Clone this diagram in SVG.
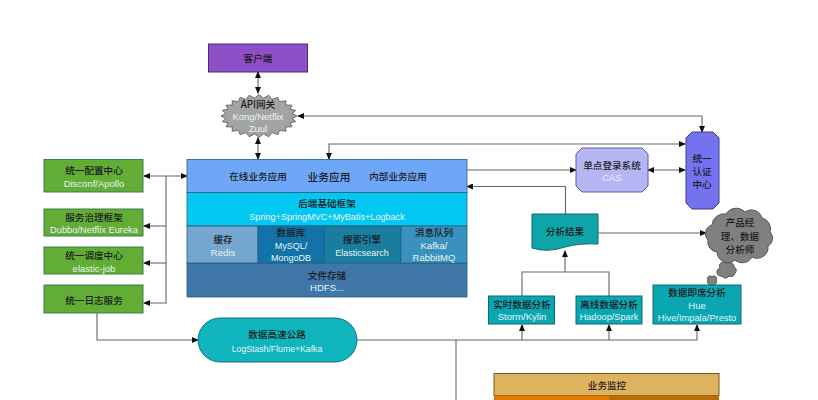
<svg xmlns="http://www.w3.org/2000/svg" width="818" height="400" viewBox="0 0 818 400">
<defs>
<marker id="a" markerWidth="7" markerHeight="6" refX="6" refY="3" orient="auto-start-reverse" markerUnits="userSpaceOnUse"><path d="M0 0L7 3L0 6Z" fill="#111"/></marker>
</defs>
<style>
text{font-family:"Liberation Sans","Noto Sans CJK SC",sans-serif;text-anchor:middle;font-size:9.5px}
.t{fill:#1c1c1c;font-family:"Noto Sans CJK SC","Liberation Sans",sans-serif;font-size:9.6px;font-weight:500}
.w{fill:#e6f4f6}
.c path{fill:none;stroke:#666;stroke-width:1.1}
.g{fill:#62ad35;stroke:#3f7d4a;stroke-width:1}
.b{stroke:#24607f;stroke-width:.8}
.d{fill:#0aa6b2;stroke:#14666e}
.k{fill:#808080;stroke:#555}
</style>
<rect width="818" height="400" fill="#fff"/>
<g class="c" id="connectors">
<path d="M258 72V93" marker-start="url(#a)" marker-end="url(#a)"/>
<path d="M258 138V159" marker-start="url(#a)" marker-end="url(#a)"/>
<path d="M298 116H702V132" marker-start="url(#a)" marker-end="url(#a)"/>
<path d="M329 159V144H685" marker-start="url(#a)" marker-end="url(#a)"/>
<path d="M467 170H576" marker-end="url(#a)"/>
<path d="M648 170H685" marker-start="url(#a)" marker-end="url(#a)"/>
<path d="M565.500 214V186.500H467" marker-end="url(#a)"/>
<path d="M598 233H706" marker-end="url(#a)"/>
<path d="M144 176H187" marker-start="url(#a)" marker-end="url(#a)"/>
<path d="M166 176V303H144" marker-end="url(#a)"/>
<path d="M166 226H144" marker-end="url(#a)"/>
<path d="M166 263H144" marker-end="url(#a)"/>
<path d="M97 313V340H198" marker-end="url(#a)"/>
<path d="M357 340H522V325" marker-end="url(#a)"/>
<path d="M522 340H609V325" marker-end="url(#a)"/>
<path d="M609 340H697V325" marker-end="url(#a)"/>
<path d="M456 340V400"/>
<path d="M522 296V272H565"/>
<path d="M609 296V272H565V251" marker-end="url(#a)"/>
</g>
<g id="client"><rect x="208.500" y="44" width="99" height="28" fill="#8e4ec6" stroke="#4b2a78"/><text class="t" x="258" y="62">客户端</text></g>
<g id="gateway">
<path d="M297 116L292.200 118.400L295.700 121.600L290 122.900L291.900 126.800L285.600 127L285.900 131.200L279.400 130.300L278 134.600L271.800 132.600L268.800 136.800L263.400 133.800L259 137.500L254.600 133.800L249.200 136.800L246.200 132.600L240 134.600L238.600 130.300L232.100 131.200L232.400 127L226.100 126.800L228 122.900L222.300 121.600L225.800 118.400L221 116L225.800 113.600L222.300 110.400L228 109.100L226.100 105.200L232.400 105L232.100 100.800L238.600 101.700L240 97.400L246.200 99.400L249.200 95.200L254.600 98.200L259 94.500L263.400 98.200L268.800 95.200L271.800 99.400L278 97.400L279.400 101.700L285.900 100.800L285.600 105L291.900 105.200L290 109.100L295.700 110.400L292.200 113.600Z" fill="#a3a3a3" stroke="#555" stroke-width=".8"/>
<text class="t" x="258" y="108">API网关</text><text class="w" x="258" y="120">Kong/Netflix</text><text class="w" x="258" y="132">Zuul</text>
</g>
<g id="config"><rect class="g" x="44" y="159.500" width="99" height="32.500"/><text class="t" x="94" y="174">统一配置中心</text><text class="w" x="94" y="186.500">Disconf/Apollo</text></g>
<g id="governance"><rect class="g" x="44" y="209" width="99" height="27"/><text class="t" x="94" y="220.500">服务治理框架</text><text class="w" x="94" y="233" style="font-size:9.300px">Dubbo/Netflix Eureka</text></g>
<g id="schedule"><rect class="g" x="44" y="247" width="99" height="27"/><text class="t" x="94" y="259">统一调度中心</text><text class="w" x="94" y="272">elastic-job</text></g>
<g id="log"><rect class="g" x="44" y="285" width="99" height="28"/><text class="t" x="94" y="304">统一日志服务</text></g>
<g id="apps"><rect class="b" x="187" y="159.500" width="280" height="33" fill="#6ea7f7"/><text class="t" x="258" y="180">在线业务应用</text><text class="t" x="329" y="180.500" style="font-size:10.700px">业务应用</text><text class="t" x="398" y="180">内部业务应用</text></g>
<g id="backend"><rect class="b" x="187" y="192.500" width="280" height="33.500" fill="#03c8f2"/><text class="t" x="327" y="207">后端基础框架</text><text class="w" x="327" y="219.500" style="font-size:9.100px">Spring+SpringMVC+MyBatis+Logback</text></g>
<g id="files"><rect class="b" x="187" y="263" width="280" height="34" fill="#3e77a8"/><text class="t" x="327" y="278.500">文件存储</text><text class="w" x="327" y="290.500">HDFS...</text></g>
<g id="cache"><rect class="b" x="187" y="226" width="71" height="37" fill="#75a6cf"/><text class="t" x="223" y="243">缓存</text><text class="w" x="223" y="255.500">Redis</text></g>
<g id="db"><rect class="b" x="258" y="226" width="66" height="37" fill="#1373a8"/><text class="t" x="291" y="236">数据库</text><text class="w" x="291" y="248.500" style="font-size:9px">MySQL/</text><text class="w" x="291" y="260.500" style="font-size:9px">MongoDB</text></g>
<g id="search"><rect class="b" x="324" y="226" width="77" height="37" fill="#197d9f"/><text class="t" x="362" y="243">搜索引擎</text><text class="w" x="362" y="255.500" style="font-size:9px">Elasticsearch</text></g>
<g id="mq"><rect class="b" x="401" y="226" width="66" height="37" fill="#3991bd"/><text class="t" x="434" y="236">消息队列</text><text class="w" x="434" y="248.500">Kafka/</text><text class="w" x="434" y="260.500">RabbitMQ</text></g>
<g id="highway"><rect x="198" y="318" width="159" height="44" rx="22" fill="#0fb4bd" stroke="#16717e"/><text class="t" x="277" y="338">数据高速公路</text><text class="w" x="277" y="351.500" style="font-size:8.700px">LogStash/Flume+Kafka</text></g>
<g id="sso"><path d="M582 148H642L648 154V186L642 192H582L576 186V154Z" fill="#b6b6f5" stroke="#5c5ca8"/><text class="t" x="612" y="169">单点登录系统</text><text class="w" x="612" y="181">CAS</text></g>
<g id="auth"><path d="M692 132H713L719 138V203L713 209H692L686 203V138Z" fill="#7373f0" stroke="#3d3d99"/><text class="t" x="702" y="162">统一</text><text class="t" x="702" y="175">认证</text><text class="t" x="702" y="188">中心</text></g>
<g id="result"><path d="M532 214H598V244Q580 243 565 247Q548 253 532 248Z" fill="#0fa5a8" stroke="#14666e"/><text class="t" x="565" y="235">分析结果</text></g>
<g id="pm"><path class="k" d="M712 225A12 12 0 0 1 726 214A12 12 0 0 1 745 212A11 11 0 0 1 762 218A11 11 0 0 1 770 232A9 9 0 0 1 768 246A11 11 0 0 1 752 257A11 11 0 0 1 735 260A11 11 0 0 1 717 252A10 10 0 0 1 708 240A9 9 0 0 1 712 225Z"/><text class="t" x="740" y="226">产品经</text><text class="t" x="740" y="240">理、数据</text><text class="t" x="740" y="253">分析师</text>
<path class="k" d="M720 268A4 4 0 0 1 727 264A4 4 0 0 1 734 267A3.500 3.500 0 0 1 735 273A4 4 0 0 1 729 276A4 4 0 0 1 722 276A3 3 0 0 1 720 268Z"/>
<path class="k" d="M708 280A2.500 2.500 0 0 1 712 277A2.500 2.500 0 0 1 716 280A2.500 2.500 0 0 1 715 284A3 3 0 0 1 709 284A2.500 2.500 0 0 1 708 280Z"/></g>
<g id="realtime"><rect class="d" x="488.500" y="296" width="66" height="28"/><text class="t" x="522" y="308">实时数据分析</text><text class="w" x="522" y="320">Storm/Kylin</text></g>
<g id="offline"><rect class="d" x="576" y="296" width="66" height="28"/><text class="t" x="609" y="308">离线数据分析</text><text class="w" x="609" y="320" style="font-size:9.200px">Hadoop/Spark</text></g>
<g id="adhoc"><rect class="d" x="653" y="285" width="88" height="39"/><text class="t" x="697" y="296">数据即席分析</text><text class="w" x="697" y="309">Hue</text><text class="w" x="697" y="321" style="font-size:9.300px">Hive/Impala/Presto</text></g>
<g id="monitor"><rect x="494" y="373.500" width="225" height="22" fill="#deb35f" stroke="#7a5a20"/><text class="t" x="607" y="389">业务监控</text><rect x="494" y="395.500" width="115" height="4.500" fill="#e07b00"/><rect x="609" y="395.500" width="110" height="4.500" fill="#b86f0a"/></g>
</svg>
